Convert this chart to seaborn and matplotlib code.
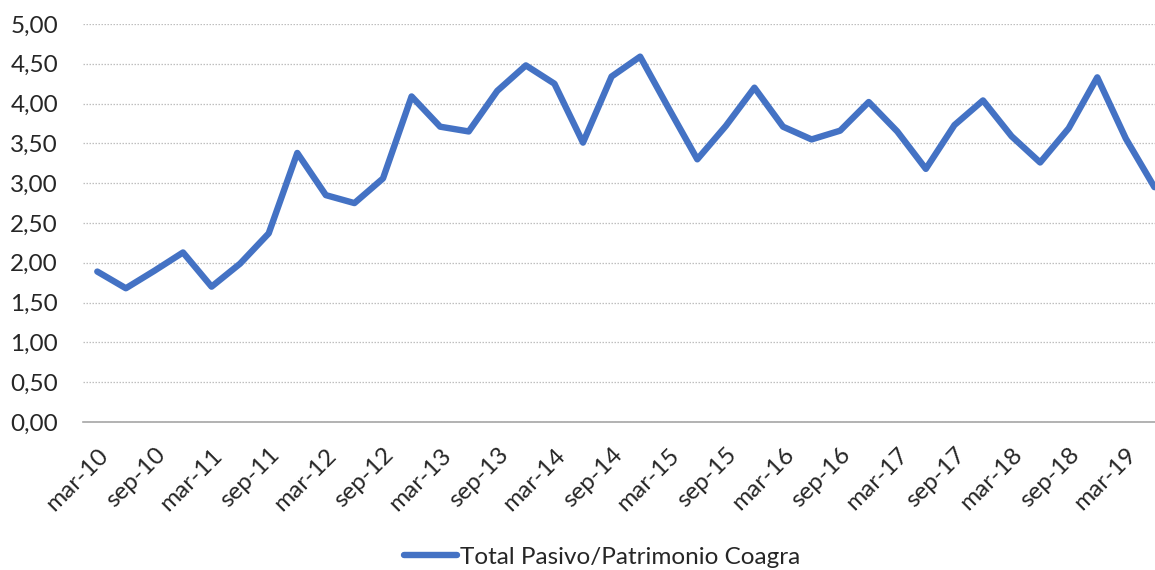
import numpy as np
import pandas as pd
import seaborn as sns
import matplotlib.pyplot as plt
from matplotlib.ticker import FixedLocator, FuncFormatter

# trimestres mar-10 .. jun-19
months = ['mar', 'jun', 'sep', 'dic']
quarters = [f'{m}-{y:02d}' for y in range(10, 20) for m in months][:38]

ratio = [1.89, 1.68, 1.90, 2.13, 1.70, 1.99, 2.37, 3.38, 2.85, 2.75,
         3.06, 4.09, 3.71, 3.65, 4.16, 4.48, 4.25, 3.51, 4.34, 4.59,
         3.94, 3.30, 3.72, 4.20, 3.71, 3.55, 3.66, 4.02, 3.65, 3.18,
         3.73, 4.04, 3.59, 3.26, 3.69, 4.33, 3.56, 2.95]

series_name = 'Total Pasivo/Patrimonio Coagra'
y_ticks = [0, 0.5, 1, 1.5, 2, 2.5, 3, 3.5, 4, 4.5, 5]

df = pd.DataFrame({'trimestre': quarters, 'valor': ratio})

sns.set_style('white')
plt.rcParams['font.family'] = ['Lato', 'DejaVu Sans']

fig = plt.figure(figsize=(11.55, 5.70), dpi=100)
ax = fig.add_axes([83 / 1155, 1 - 422 / 570, 1 - 83 / 1155, (422 - 24) / 570])

sns.lineplot(data=df, x='trimestre', y='valor', ax=ax, color='#4472C4',
             linewidth=4.6, label=series_name, sort=False)

ax.set_ylim(0, 5)
ax.set_xlim(-0.5, 37.02)
ax.set_yticks(y_ticks)
ax.yaxis.set_major_formatter(FuncFormatter(lambda v, p: f'{v:.2f}'.replace('.', ',')))
ax.grid(axis='y', color='#bfbfbf', linestyle=(0, (1.2, 1.2)), linewidth=0.9)
ax.set_axisbelow(True)

pos = np.arange(len(quarters))
ax.set_xticks(pos[::2])
ax.set_xticklabels(quarters[::2], rotation=45, ha='right', rotation_mode='anchor')
ax.xaxis.set_minor_locator(FixedLocator(np.arange(len(quarters) + 1) - 0.5))
ax.tick_params(axis='x', which='major', length=0, pad=16, labelsize=17.5)
ax.tick_params(axis='x', which='minor', length=7, width=1, color='#a6a6a6', direction='out')
ax.tick_params(axis='y', length=0, pad=18, labelsize=17.5)

for s in ['top', 'right', 'left']:
    ax.spines[s].set_visible(False)
ax.spines['bottom'].set_color('#a6a6a6')
ax.spines['bottom'].set_linewidth(1.2)

ax.set_xlabel('')
ax.set_ylabel('')

h, l = ax.get_legend_handles_labels()
ax.get_legend().remove()
fig.legend(h, l, loc='center', bbox_to_anchor=(602 / 1155, 1 - 557 / 570),
           frameon=False, fontsize=17.5, handlelength=2.2, handletextpad=0.1)

plt.savefig('out.png', dpi=100)
